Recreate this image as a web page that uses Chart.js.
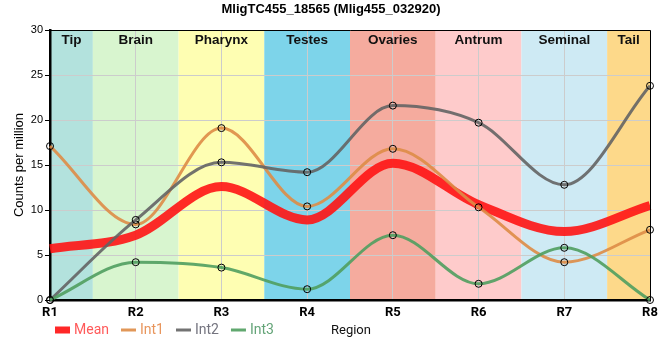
<!DOCTYPE html>
<html><head><meta charset="utf-8">
<script src="https://cdn.jsdelivr.net/npm/chart.js@4/dist/chart.umd.min.js"></script>
<style>html,body{margin:0;padding:0;background:#fff}#wrap{width:660px;height:360px}</style>
</head><body><div id="wrap"><canvas id="c" width="660" height="360"></canvas></div>
<script>
const categories = ['R1','R2','R3','R4','R5','R6','R7','R8'];
const meanValues = [5.7, 7.2, 12.6, 8.9, 15.2, 10.6, 7.6, 10.5];
const int1Values = [17.1, 8.4, 19.1, 10.4, 16.8, 10.3, 4.2, 7.8];
const int2Values = [0, 8.9, 15.3, 14.2, 21.6, 19.7, 12.8, 23.8];
const int3Values = [0, 4.2, 3.6, 1.2, 7.2, 1.8, 5.8, 0];
const yTicks = [0, 5, 10, 15, 20, 25, 30];
const regionNames = ['Tip','Brain','Pharynx','Testes','Ovaries','Antrum','Seminal','Tail'];
const regionBounds = [[0,0.5],[0.5,1.5],[1.5,2.5],[2.5,3.5],[3.5,4.5],[4.5,5.5],[5.5,6.5],[6.5,7]];
const regionColors = ['#b3e2dd','#d8f5cf','#fefeb2','#7dd4ea','#f5ab9e','#fecbcb','#ceeaf4','#fdd98a'];

const seriesStyle = [
  {label:'Mean', data:meanValues, color:'rgba(255,20,20,0.9)', text:'#ff5a5a', width:9, order:4, radius:0},
  {label:'Int1', data:int1Values, color:'rgba(222,140,70,0.9)', text:'#e8955c', width:3, order:3, radius:3.5},
  {label:'Int2', data:int2Values, color:'rgba(100,100,100,0.9)', text:'#74747f', width:3, order:2, radius:3.5},
  {label:'Int3', data:int3Values, color:'rgba(80,158,95,0.9)', text:'#64a478', width:3, order:1, radius:3.5}
];

const bandsPlugin = {
  id:'bands',
  beforeDraw(chart){
    const {ctx, chartArea:a, scales:{x}} = chart;
    ctx.save();
    regionBounds.forEach((b,i)=>{
      const x0 = x.getPixelForValue(b[0]), x1 = x.getPixelForValue(b[1]);
      ctx.fillStyle = regionColors[i];
      ctx.fillRect(x0, a.top, x1-x0, a.bottom-a.top);
    });
    ctx.restore();
  },
  afterDatasetsDraw(chart){
    const {ctx, chartArea:a, scales:{x}} = chart;
    ctx.save();
    ctx.font = 'bold 13.5px "Liberation Sans", Arial, sans-serif';
    ctx.fillStyle = '#111';
    ctx.textAlign = 'center';
    ctx.textBaseline = 'middle';
    regionBounds.forEach((b,i)=>{
      const xc = (x.getPixelForValue(b[0]) + x.getPixelForValue(b[1]))/2;
      ctx.fillText(regionNames[i], xc, a.top + 10);
    });
    ctx.strokeStyle = '#000';
    ctx.lineWidth = 1;
    ctx.beginPath();
    ctx.moveTo(a.left, a.top+0.5); ctx.lineTo(a.right+0.5, a.top+0.5); ctx.lineTo(a.right+0.5, a.bottom);
    ctx.stroke();
    ctx.restore();
  },
  afterDraw(chart){
    const {ctx, chartArea:a} = chart;
    ctx.save();
    ctx.textBaseline = 'middle';
    let xp = a.left + 5;
    const y = 330;
    ctx.font = '14px Roboto, sans-serif';
    seriesStyle.forEach((s,i)=>{
      if (i===0){
        ctx.fillStyle = 'rgba(255,40,40,1)';
        ctx.fillRect(xp, y-3.5, 15, 7);
      } else {
        ctx.strokeStyle = s.color; ctx.lineWidth = 3;
        ctx.beginPath(); ctx.moveTo(xp, y); ctx.lineTo(xp+15, y); ctx.stroke();
      }
      xp += 19;
      ctx.fillStyle = s.text;
      ctx.textAlign = 'left';
      ctx.fillText(s.label, xp, y);
      xp += ctx.measureText(s.label).width + 12;
    });
    ctx.font = '13px Roboto, sans-serif';
    ctx.fillStyle = '#111';
    ctx.fillText('Region', 331, y+1);
    ctx.restore();
  }
};

new Chart(document.getElementById('c'), {
  type:'line',
  data:{
    labels:categories,
    datasets: seriesStyle.map(s=>({
      label:s.label, data:s.data, borderColor:s.color, borderWidth:s.width,
      backgroundColor:s.color, fill:false, order:s.order,
      cubicInterpolationMode:'monotone',
      pointRadius:s.radius, pointHoverRadius:s.radius, pointBorderColor:'#000', pointBorderWidth:1,
      pointBackgroundColor:'rgba(0,0,0,0)', clip:false
    }))
  },
  options:{
    responsive:false, animation:false,
    layout:{padding:{left:12, right:10, top:0, bottom:0}},
    plugins:{
      legend:{display:false},
      tooltip:{enabled:false},
      title:{display:true, text:'MligTC455_18565 (Mlig455_032920)',
        font:{family:'"Liberation Sans", Arial, sans-serif', size:13, weight:'bold'},
        color:'#000', padding:{top:2, bottom:12.4}}
    },
    scales:{
      x:{
        type:'category', offset:false,
        grid:{color:'#cccccc', drawTicks:true, tickLength:4, tickColor:'rgba(0,0,0,0)'},
        border:{color:'#000', width:2.5},
        ticks:{font:{family:'Roboto, sans-serif', size:13, weight:'bold'}, color:'#000', padding:1, maxRotation:0},
        afterFit(s){ s.height = 60; }
      },
      y:{
        min:0, max:30,
        afterBuildTicks(s){ s.ticks = yTicks.map(v=>({value:v})); },
        grid:{color:'#cccccc', tickColor:'#000', tickLength:5},
        border:{color:'#000', width:2.5},
        ticks:{font:{family:'"Liberation Sans", Arial, sans-serif', size:11}, color:'#000', padding:2},
        title:{display:true, text:'Counts per million', font:{family:'"Liberation Sans", Arial, sans-serif', size:13}, color:'#000', padding:{top:0,bottom:4}},
        afterFit(s){ s.width = 38; }
      }
    }
  },
  plugins:[bandsPlugin]
});
</script></body></html>
